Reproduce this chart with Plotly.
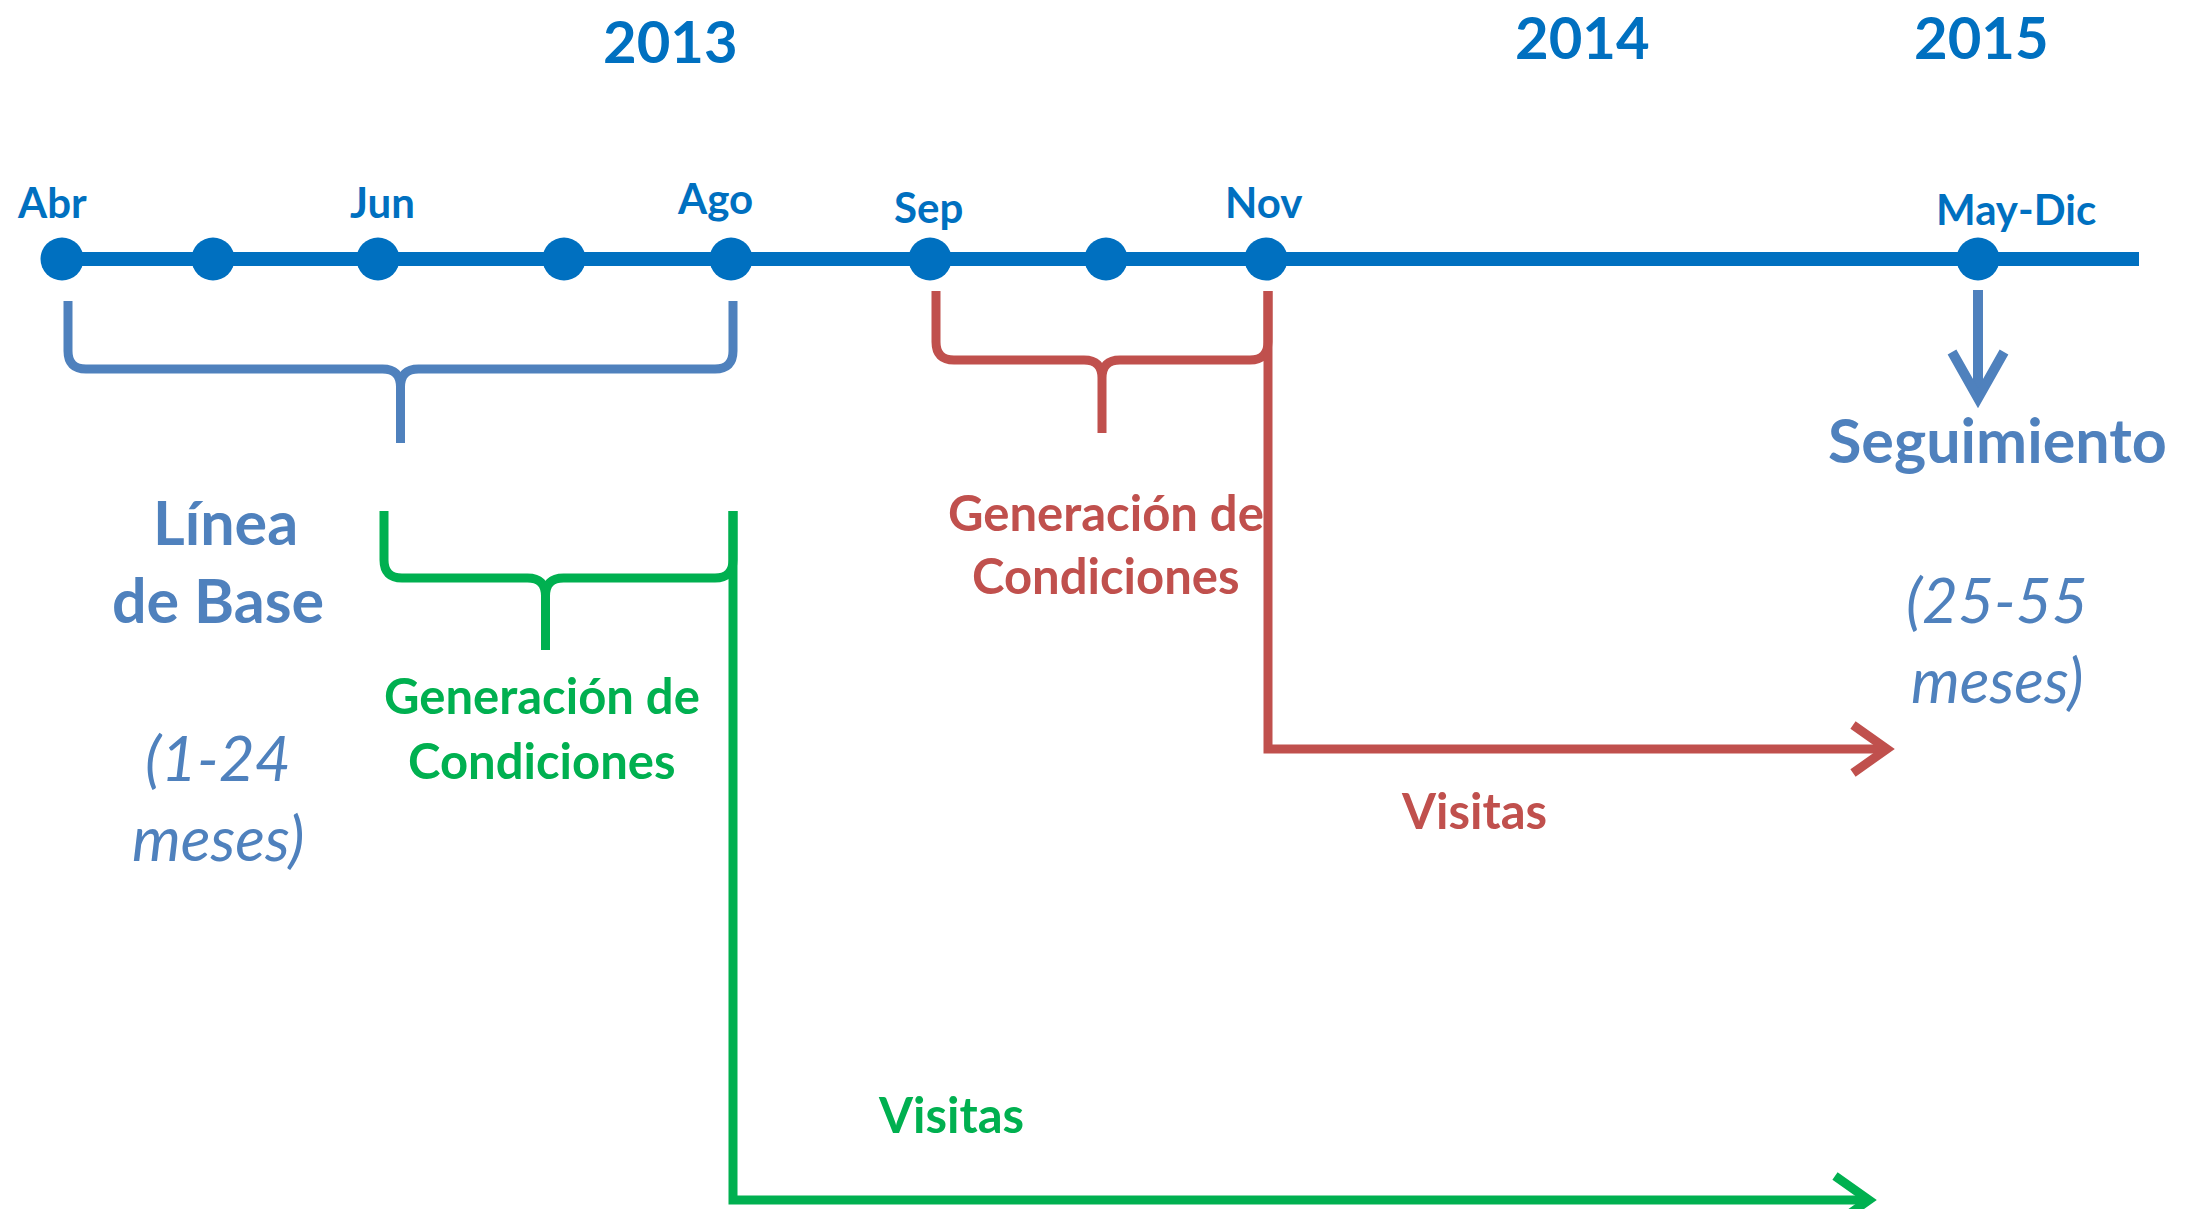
import plotly.graph_objects as go

# --- data -------------------------------------------------------------
# timeline nodes: position along the drawing (canvas units) and label
node_pos = [62, 213, 378, 564, 731, 930, 1106, 1266, 1978]
node_label = ["Abr", "", "Jun", "", "Ago", "Sep", "", "Nov", "May-Dic"]
timeline_end = 2139

years = ["2013", "2014", "2015"]
year_pos = [670, 1582, 1981]

# brackets: (first node, last node)
bracket_names = ["Línea de Base", "Generación de Condiciones (Nov)", "Generación de Condiciones (Ago)"]
bracket_from = [0, 5, 2]
bracket_to = [4, 7, 4]

# colours
BLUE = "#0070C0"
STEEL = "#4F81BD"
RED = "#C0504D"
GREEN = "#00B050"
FONT = "Lato"

W, H = 2195, 1209
TL_Y = 259

fig = go.Figure()

# timeline line and dots
fig.add_trace(go.Scatter(x=[node_pos[0], timeline_end], y=[TL_Y, TL_Y], mode="lines",
                         line=dict(color=BLUE, width=14), hoverinfo="skip"))
fig.add_trace(go.Scatter(x=node_pos, y=[TL_Y] * len(node_pos), mode="markers",
                         marker=dict(color=BLUE, size=43), hoverinfo="skip"))

# month labels
lab_dx = [-10, 0, 4, 0, -16, -2, 0, -3, 38]
lab_y = [202, 0, 202, 0, 198, 207, 0, 202, 209]
for x, t, dx, yy in zip(node_pos, node_label, lab_dx, lab_y):
    if t:
        fig.add_annotation(x=x + dx, y=yy, text="<b>%s</b>" % t, showarrow=False,
                           font=dict(family=FONT, size=42, color=BLUE))

# year labels
for t, x, yy in zip(years, year_pos, [40, 36, 36]):
    fig.add_annotation(x=x, y=yy, text="<b>%s</b>" % t, showarrow=False,
                       font=dict(family=FONT, size=58, color=BLUE))


def brace(x0, x1, top, mid, tip, r=18, shift=0):
    xc = (x0 + x1) / 2 + shift
    return (f"M {x0},{top} L {x0},{mid - r} Q {x0},{mid} {x0 + r},{mid} "
            f"L {xc - r},{mid} Q {xc},{mid} {xc},{mid + r} L {xc},{tip} "
            f"M {xc},{mid + r} Q {xc},{mid} {xc + r},{mid} "
            f"L {x1 - r},{mid} Q {x1},{mid} {x1},{mid - r} L {x1},{top}")


brace_geo = [(301, 369, 443, 0, STEEL), (291, 360, 433, 0, RED), (511, 578, 650, -13, GREEN)]
for a, b, (top, mid, tip, sh, col) in zip(bracket_from, bracket_to, brace_geo):
    x0, x1 = node_pos[a] + 6, node_pos[b] + 2
    fig.add_shape(type="path", path=brace(x0, x1, top, mid, tip, shift=sh), xref="x", yref="y",
                  line=dict(color=col, width=9))


def chevron(xt, yt, direction, depth=34, half=24):
    if direction == "right":
        return f"M {xt - depth},{yt - half} L {xt},{yt} L {xt - depth},{yt + half}"
    return f"M {xt - half},{yt - depth} L {xt},{yt} L {xt + half},{yt - depth}"


# red visits arrow from Nov
nov = node_pos[7]
fig.add_shape(type="path", path=f"M {nov + 2},{291} L {nov + 2},{749} L {1884},{749}",
              line=dict(color=RED, width=9))
fig.add_shape(type="path", path=chevron(1887, 749, "right"), line=dict(color=RED, width=9))

# green visits arrow from Ago
ago = node_pos[4]
fig.add_shape(type="path", path=f"M {ago + 2},{511} L {ago + 2},{1200} L {1866},{1200}",
              line=dict(color=GREEN, width=9))
fig.add_shape(type="path", path=chevron(1869, 1200, "right"), line=dict(color=GREEN, width=9))

# follow-up arrow
md = node_pos[8]
fig.add_shape(type="path", path=f"M {md},{290} L {md},{396}", line=dict(color=STEEL, width=10))
fig.add_shape(type="path", path=chevron(md, 398, "down", depth=46, half=26),
              line=dict(color=STEEL, width=10))


def txt(x, y, s, col, size, italic=False, bold=True):
    if bold:
        s = "<b>%s</b>" % s
    if italic:
        s = "<i>%s</i>" % s
    fig.add_annotation(x=x, y=y, text=s, showarrow=False,
                       font=dict(family=FONT, size=size, color=col))


txt(225, 521, "Línea", STEEL, 61)
txt(218, 599, "de Base", STEEL, 61)
txt(218, 757, "(1-24", STEEL, 62, italic=True, bold=False)
txt(218, 837, "meses)", STEEL, 62, italic=True, bold=False)

txt(1997, 439, "Seguimiento", STEEL, 61)
txt(1997, 599, "(25-55", STEEL, 62, italic=True, bold=False)
txt(1997, 679, "meses)", STEEL, 62, italic=True, bold=False)

txt(542, 695, "Generación de", GREEN, 49)
txt(542, 760, "Condiciones", GREEN, 49)
txt(951, 1114, "Visitas", GREEN, 49)

txt(1106, 512, "Generación de", RED, 49)
txt(1106, 575, "Condiciones", RED, 49)
txt(1474, 810, "Visitas", RED, 49)

fig.update_layout(
    width=W, height=H, margin=dict(l=0, r=0, t=0, b=0),
    paper_bgcolor="white", plot_bgcolor="white", showlegend=False,
    xaxis=dict(range=[0, W], visible=False, fixedrange=True),
    yaxis=dict(range=[H, 0], visible=False, fixedrange=True),
)

fig.write_html("out.html", config={"displayModeBar": False},
               post_script="document.body.style.margin='0';document.body.style.overflow='hidden';")
